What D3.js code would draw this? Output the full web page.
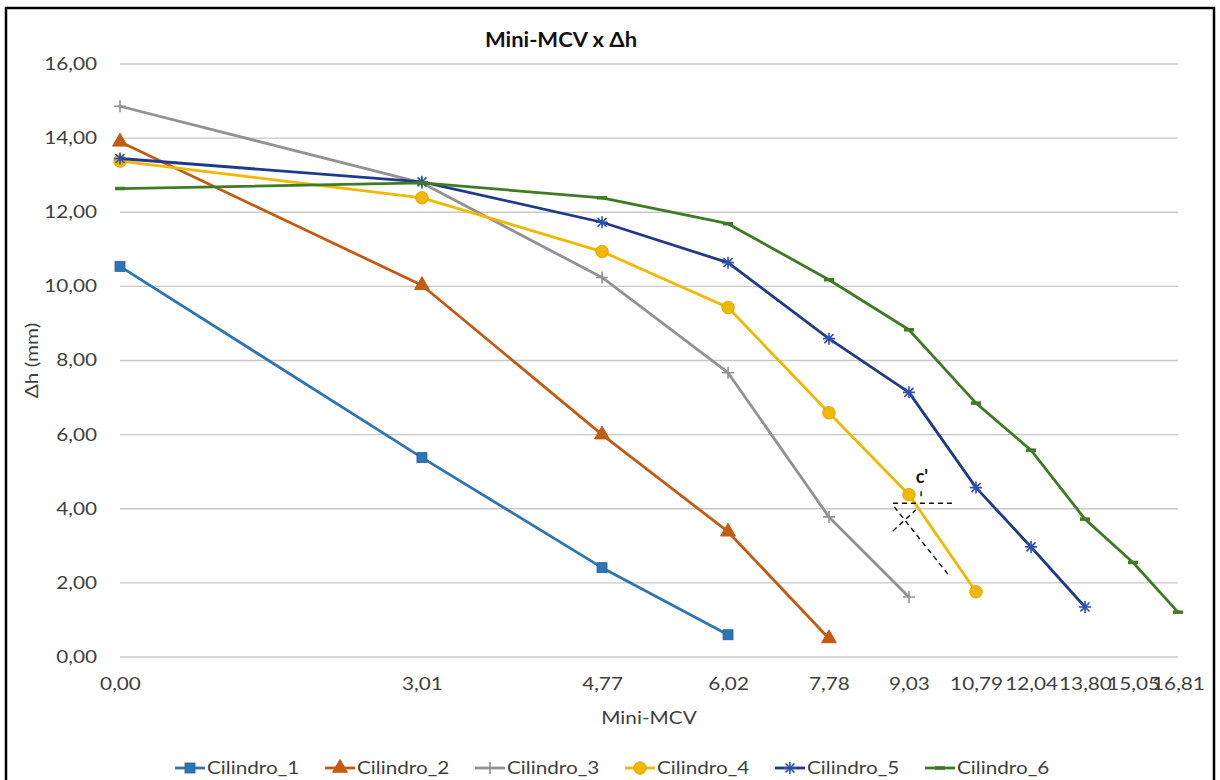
<!DOCTYPE html>
<html>
<head>
<meta charset="utf-8">
<script src="https://cdn.jsdelivr.net/npm/d3@7"></script>
<style>
  html, body { margin: 0; padding: 0; background: #fff; }
  svg { display: block; font-family: Lato, "Open Sans", sans-serif; }
</style>
</head>
<body>
<svg id="chart" width="1220" height="780"></svg>
<script>
// ---- data ----
const xValues = [0.00, 3.01, 4.77, 6.02, 7.78, 9.03, 10.79, 12.04, 13.80, 15.05, 16.81];
const xTickLabels = ["0,00", "3,01", "4,77", "6,02", "7,78", "9,03", "10,79", "12,04", "13,80", "15,05", "16,81"];
// relative placement of the categories along the x axis (0 = left end, 1 = right end)
const xAxisFractions = [0, 0.2854, 0.4556, 0.5747, 0.6701, 0.7457, 0.8091, 0.8611, 0.9121, 0.9575, 1];
const yTicks = [0, 2, 4, 6, 8, 10, 12, 14, 16];
const seriesNames = ["Cilindro_1", "Cilindro_2", "Cilindro_3", "Cilindro_4", "Cilindro_5", "Cilindro_6"];
const cilindro1 = [10.54, 5.38, 2.41, 0.60];
const cilindro2 = [13.90, 10.03, 6.00, 3.38, 0.50];
const cilindro3 = [14.86, 12.79, 10.24, 7.67, 3.78, 1.62];
const cilindro4 = [13.38, 12.39, 10.94, 9.43, 6.59, 4.38, 1.76];
const cilindro5 = [13.45, 12.82, 11.73, 10.64, 8.59, 7.14, 4.57, 2.97, 1.35];
const cilindro6 = [12.64, 12.79, 12.39, 11.69, 10.18, 8.83, 6.85, 5.58, 3.72, 2.55, 1.21];
const seriesValues = [cilindro1, cilindro2, cilindro3, cilindro4, cilindro5, cilindro6];
const seriesColors = ["#2E75B6", "#C55A11", "#929292", "#F2B800", "#1F3A8A", "#3E7B23"];
const seriesMarkers = ["square", "triangle", "plus", "circle", "asterisk", "dash"];
// annotation c' (data coordinates)
const annoLabel = { x: 9.37, y: 4.70, text: "c'" };
const annoSegments = [
  [[8.78, 4.15], [10.16, 4.15]],
  [[9.35, 4.47], [9.35, 4.24]],
  [[8.80, 4.05], [10.11, 2.16]],
  [[8.78, 3.40], [9.21, 3.97]]
];

// ---- layout ----
const svg = d3.select("#chart");
const pLeft = 120, pRight = 1178, pTop = 64, pBottom = 657;
const SX = 1.22;   // horizontal stretch of the labels' font
const FS = 17;

const x = d3.scaleLinear()
  .domain(xValues)
  .range(xAxisFractions.map(f => pLeft + f * (pRight - pLeft)));
const y = d3.scaleLinear().domain([0, 16]).range([pBottom, pTop]);

function stretch(sel, sx) {
  sel.each(function () {
    const t = d3.select(this);
    const X = +t.attr("x") || 0;
    t.attr("transform", `translate(${X},0) scale(${sx},1) translate(${-X},0)`);
  });
}

// border
svg.append("rect").attr("x", 6).attr("y", 8).attr("width", 1208).attr("height", 800)
  .attr("fill", "none").attr("stroke", "#000").attr("stroke-width", 2.5);

// gridlines
svg.append("g").selectAll("line").data(yTicks).join("line")
  .attr("x1", pLeft).attr("x2", pRight)
  .attr("y1", d => y(d)).attr("y2", d => y(d))
  .attr("stroke", "#c8c8c8").attr("stroke-width", 1.3);

// y axis labels
const yAxis = d3.axisLeft(y).tickValues(yTicks).tickSize(0).tickPadding(23)
  .tickFormat(d => d3.format(".2f")(d).replace(".", ","));
const gy = svg.append("g").attr("transform", `translate(${pLeft},0)`).call(yAxis);
gy.select(".domain").remove();
gy.selectAll("text").attr("font-size", FS).attr("fill", "#404040")
  .attr("font-family", "Lato, sans-serif").call(stretch, SX);

// x axis labels
const xAxis = d3.axisBottom(x).tickValues(xValues).tickSize(0).tickPadding(21)
  .tickFormat((d, i) => xTickLabels[i]);
const gx = svg.append("g").attr("transform", `translate(0,${pBottom})`).call(xAxis);
gx.select(".domain").remove();
gx.selectAll("text").attr("font-size", FS).attr("fill", "#404040")
  .attr("font-family", "Lato, sans-serif").call(stretch, SX);

// titles
svg.append("text").attr("x", 561).attr("y", 47).attr("text-anchor", "middle")
  .attr("font-size", 20).attr("font-weight", "bold").attr("fill", "#111")
  .text("Mini-MCV x Δh").call(stretch, 1.1);
svg.append("text").attr("x", 649).attr("y", 724).attr("text-anchor", "middle")
  .attr("font-size", FS).attr("fill", "#404040").text("Mini-MCV").call(stretch, SX);
svg.append("text").attr("transform", `translate(38,${(pTop + pBottom) / 2}) rotate(-90) scale(${SX},1)`)
  .attr("text-anchor", "middle").attr("font-size", FS).attr("fill", "#404040")
  .text("Δh (mm)");

// marker drawing
function drawMarker(g, type, color) {
  switch (type) {
    case "square":
      g.append("rect").attr("x", -5).attr("y", -5).attr("width", 10).attr("height", 10)
        .attr("fill", color).attr("stroke", "#2a5f94").attr("stroke-width", 0.8); break;
    case "triangle":
      g.append("path").attr("d", d3.symbol(d3.symbolTriangle, 95)())
        .attr("fill", color).attr("stroke", color); break;
    case "plus":
      g.append("path").attr("d", "M-6,0H6M0,-6V6").attr("stroke", color).attr("stroke-width", 1.6); break;
    case "circle":
      g.append("circle").attr("r", 6.3).attr("fill", color).attr("stroke", "#d9a000").attr("stroke-width", 0.8); break;
    case "asterisk":
      g.append("path").attr("d", "M-6,0H6M0,-6V6M-4.5,-4.5L4.5,4.5M-4.5,4.5L4.5,-4.5")
        .attr("stroke", "#2E4FB0").attr("stroke-width", 1.6); break;
    case "dash":
      g.append("path").attr("d", "M-5,0H5").attr("stroke", color).attr("stroke-width", 3.5); break;
  }
}

// series
const line = d3.line().x(d => x(d[0])).y(d => y(d[1]));
seriesValues.forEach((vals, si) => {
  const pts = vals.map((v, i) => [xValues[i], v]);
  const g = svg.append("g");
  g.append("path").datum(pts).attr("d", line).attr("fill", "none")
    .attr("stroke", seriesColors[si]).attr("stroke-width", 2.8)
    .attr("stroke-linejoin", "round").attr("stroke-linecap", "round");
  pts.forEach(p => {
    const mg = g.append("g").attr("transform", `translate(${x(p[0])},${y(p[1])})`);
    drawMarker(mg, seriesMarkers[si], seriesColors[si]);
  });
});

// annotation
const ag = svg.append("g");
annoSegments.forEach(s => {
  ag.append("line").attr("x1", x(s[0][0])).attr("y1", y(s[0][1]))
    .attr("x2", x(s[1][0])).attr("y2", y(s[1][1]))
    .attr("stroke", "#111").attr("stroke-width", 1.4).attr("stroke-dasharray", "5,4");
});
ag.append("text").attr("x", x(annoLabel.x)).attr("y", y(annoLabel.y))
  .attr("text-anchor", "middle").attr("font-size", 18).attr("font-weight", "bold")
  .attr("fill", "#111").text(annoLabel.text);

// legend
const legendX0 = 175, legendStep = 150, legendY = 768;
const lg = svg.append("g");
seriesNames.forEach((name, i) => {
  const gx0 = legendX0 + i * legendStep;
  const item = lg.append("g").attr("transform", `translate(${gx0},${legendY})`);
  item.append("line").attr("x1", 0).attr("x2", 30).attr("y1", 0).attr("y2", 0)
    .attr("stroke", seriesColors[i]).attr("stroke-width", 2.8);
  const mg = item.append("g").attr("transform", "translate(15,0)");
  drawMarker(mg, seriesMarkers[i], seriesColors[i]);
  item.append("text").attr("x", 32).attr("y", 6).attr("font-size", FS)
    .attr("fill", "#404040").text(name).call(stretch, SX);
});
</script>
</body>
</html>
